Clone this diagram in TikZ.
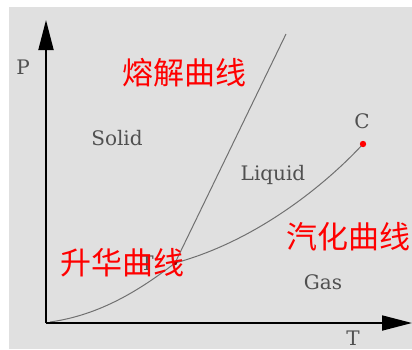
\documentclass[tikz,border=0pt]{standalone}
\usepackage{fontspec}
\setmainfont{DejaVu Serif}
\newfontfamily\cjk{Noto Sans CJK SC}
\usetikzlibrary{arrows.meta}
\definecolor{bg}{HTML}{E0E0E0}
\definecolor{lbl}{HTML}{505050}
\definecolor{crv}{HTML}{707070}
\begin{document}
\begin{tikzpicture}[x=1pt,y=-1pt,
  axis/.style={line width=1.8pt,-{Triangle[length=30pt,width=15pt]}},
  curve/.style={crv,line width=1pt},
  phase/.style={text=lbl,font=\fontsize{20}{20}\selectfont,inner sep=0pt},
  cn/.style={text=red,font=\cjk\fontsize{31}{31}\selectfont,inner sep=0pt}]
\useasboundingbox (0,0) rectangle (412,349);
\fill[bg] (9,7) rectangle (412,349);
\coordinate (O) at (46,323);
\coordinate (Ptop) at (46,20);
\coordinate (Tend) at (412,323);
\coordinate (TP) at (175,263);
\coordinate (CP) at (363,144);
\coordinate (ML) at (286,34);
\coordinate (S0) at (50,322);
\draw[curve] (TP) -- (ML);
\draw[curve] (TP) .. controls (260,240) and (330,180) .. (CP);
\draw[curve] (S0) .. controls (100,315) and (140,290) .. (TP);
\draw[axis] (O) -- (Ptop);
\draw[axis] (O) -- (Tend);
\fill[red] (CP) circle (3.2pt);
\fill[red!60!black] (TP) circle (2.2pt);
\node[phase] (pl) at (23,67) {P};
\node[phase] (tl) at (353,338) {T};
\node[phase] (solid) at (117,138) {Solid};
\node[phase] (liquid) at (273,175) {Liquid};
\node[phase] (gas) at (323,282) {Gas};
\node[phase] (cl) at (362,121) {C};
\node[phase] (tpl) at (147,263) {T};
\node[cn] (melt) at (184,73) {熔解曲线};
\node[cn] (vap) at (348,237) {汽化曲线};
\node[cn] (sub) at (122,263) {升华曲线};
\end{tikzpicture}
\end{document}
